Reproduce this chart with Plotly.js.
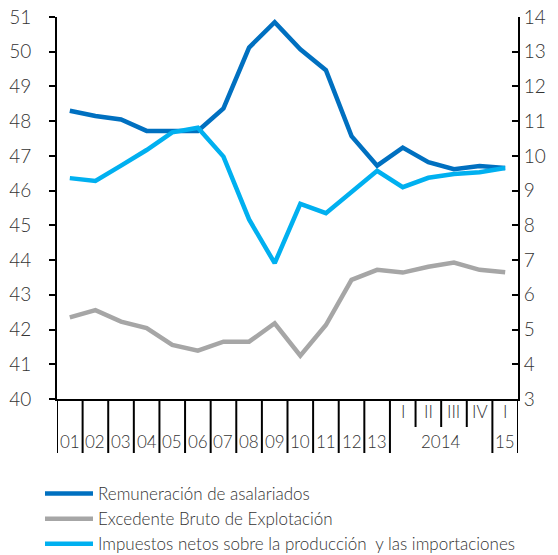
<!DOCTYPE html>
<html>
<head>
<meta charset="utf-8">
<script src="https://cdn.plot.ly/plotly-3.0.1.min.js"></script>
<style>html,body{margin:0;padding:0;background:#fff;}#chart{width:558px;height:555px;}</style>
</head>
<body>
<div id="chart"></div>
<script>
// Data
const categories = ['01','02','03','04','05','06','07','08','09','10','11','12','13','2014-I','2014-II','2014-III','2014-IV','2015-I'];
const yearLabels = ['01','02','03','04','05','06','07','08','09','10','11','12','13'];
const quarterLabels = ['I','II','III','IV','I'];
const groupLabels = ['2014','15'];
const remuneracion = [48.3,48.15,48.05,47.72,47.72,47.72,48.37,50.12,50.85,50.07,49.47,47.57,46.72,47.24,46.82,46.62,46.71,46.65];
const excedente = [42.35,42.56,42.23,42.04,41.56,41.39,41.65,41.65,42.18,41.25,42.13,43.43,43.72,43.64,43.81,43.93,43.72,43.65];
const impuestos = [9.36,9.28,9.72,10.17,10.68,10.81,9.98,8.17,6.91,8.62,8.35,8.98,9.57,9.1,9.37,9.48,9.53,9.65];
const names = ['Remuneración de asalariados','Excedente Bruto de Explotación','Impuestos netos sobre la producción  y las importaciones'];

const idx = categories.map((c,i)=>i);
const font = 'Lato, "Open Sans", sans-serif';
const txt = '#333333';
const W = 300;

const traces = [
  {x: idx, y: remuneracion, name: names[0], mode:'lines', line:{color:'#0070C0', width:4.5}, yaxis:'y'},
  {x: idx, y: excedente, name: names[1], mode:'lines', line:{color:'#A6A6A6', width:4.5}, yaxis:'y'},
  {x: idx, y: impuestos, name: names[2], mode:'lines', line:{color:'#00B0F0', width:4.5}, yaxis:'y2'}
];

const shapes = [];
const longTicks = [];
for (let i=0;i<=13;i++) longTicks.push(i-0.5);
longTicks.push(16.5, 17.5);
longTicks.forEach(v=>shapes.push({type:'line', xref:'x', yref:'paper', x0:v, x1:v, y0:0, y1:-0.1414, line:{color:'#000', width:2}}));
[13.5,14.5,15.5].forEach(v=>shapes.push({type:'line', xref:'x', yref:'paper', x0:v, x1:v, y0:0, y1:-0.0733, line:{color:'#000', width:2}}));

const lab = {family:font, size:17, color:txt, weight:W};
const annotations = [];
yearLabels.forEach((t,i)=>annotations.push({x:i, y:-0.110, xref:'x', yref:'paper', text:t, showarrow:false, xanchor:'center', yanchor:'middle', font:lab}));
quarterLabels.forEach((t,i)=>annotations.push({x:13+i, y:-0.033, xref:'x', yref:'paper', text:t, showarrow:false, xanchor:'center', yanchor:'middle', font:lab}));
annotations.push({x:14.5, y:-0.110, xref:'x', yref:'paper', text:groupLabels[0], showarrow:false, xanchor:'center', yanchor:'middle', font:lab});
annotations.push({x:17, y:-0.110, xref:'x', yref:'paper', text:groupLabels[1], showarrow:false, xanchor:'center', yanchor:'middle', font:lab});

const layout = {
  width:558, height:555,
  margin:{l:57, r:40, t:17, b:156, autoexpand:false},
  paper_bgcolor:'#fff', plot_bgcolor:'#fff',
  showlegend:true,
  legend:{x:40/558, xref:'container', xanchor:'left', y:1-476/555, yref:'container', yanchor:'top', orientation:'v', itemwidth:48, tracegroupgap:0, font:{family:font, size:17, color:txt, weight:W}, bgcolor:'rgba(0,0,0,0)'},
  xaxis:{range:[-0.5,17.5], showticklabels:false, ticks:'', showgrid:false, zeroline:false, showline:true, linecolor:'#000', linewidth:2, fixedrange:true},
  yaxis:{range:[40,51], dtick:1, tick0:40, ticks:'outside', ticklen:6, tickwidth:2, tickcolor:'#000', showline:true, linecolor:'#000', linewidth:2, showgrid:false, zeroline:false, ticklabelstandoff:14, tickfont:{family:font, size:19, color:txt, weight:W}},
  yaxis2:{range:[3,14], dtick:1, tick0:3, overlaying:'y', side:'right', ticks:'inside', ticklen:6, tickwidth:2, tickcolor:'#000', showline:true, linecolor:'#000', linewidth:2, showgrid:false, zeroline:false, tickfont:{family:font, size:19, color:txt, weight:W}},
  shapes: shapes,
  annotations: annotations
};
Plotly.newPlot('chart', traces, layout, {displayModeBar:false, staticPlot:true});
</script>
</body>
</html>
